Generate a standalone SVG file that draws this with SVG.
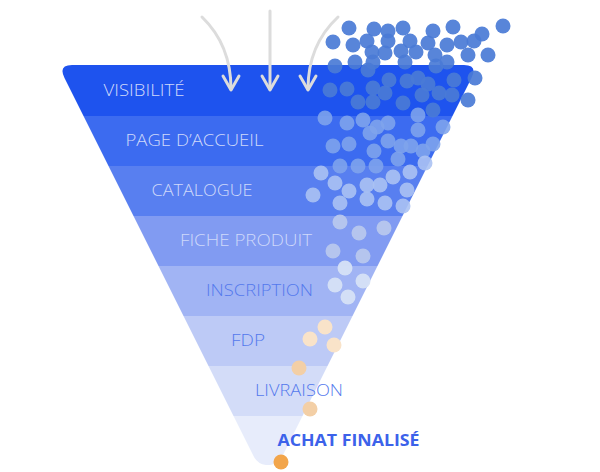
<svg xmlns="http://www.w3.org/2000/svg" width="600" height="472" viewBox="0 0 600 472">
<defs>
<style>
.lbl{font-family:"Open Sans","Lato","Liberation Sans",sans-serif;font-size:16px;font-weight:300}
.lt{fill:#cfd9fa}
.dk{fill:#5479ed}
.fin{font-family:"Open Sans","Lato","Liberation Sans",sans-serif;font-size:16px;font-weight:700;fill:#3c62ea}
.arr{fill:none;stroke:#dcdcdc;stroke-width:3;stroke-linecap:round;stroke-linejoin:round}
.d1 circle{fill:#4a7bd6;opacity:0.92}
.d2 circle{fill:#80a4ec;opacity:0.88}
.d3 circle{fill:#abc2f3;opacity:0.9}
.d4 circle{fill:#b7c7ed;opacity:0.95}
.d5 circle{fill:#d6e2f5;opacity:0.95}
.d6 circle{fill:#f9e3c9}
.d7 circle{fill:#f3cfa6}
.d8 circle{fill:#f2a54b}
</style>
<clipPath id="funnelClip">
<path d="M 72 65 L 464 65 Q 478 65 471.5 78 L 283 455 Q 279 464 270 465 L 266 465 Q 257 464 253 455 L 64.5 78 Q 58 65 72 65 Z"/>
</clipPath>
</defs>
<rect width="600" height="472" fill="#ffffff"/>
<g id="funnel" clip-path="url(#funnelClip)">
<rect x="40" y="60" width="460" height="56" fill="#1e53ee"/>
<rect x="40" y="116" width="460" height="50" fill="#3c6bf0"/>
<rect x="40" y="166" width="460" height="50" fill="#587ff0"/>
<rect x="40" y="216" width="460" height="50" fill="#819bf2"/>
<rect x="40" y="266" width="460" height="50" fill="#a1b4f4"/>
<rect x="40" y="316" width="460" height="50" fill="#bdcaf6"/>
<rect x="40" y="366" width="460" height="50" fill="#d3dcf8"/>
<rect x="40" y="416" width="460" height="56" fill="#e7ecfb"/>
</g>
<g id="stage-visibilite"><text class="lbl lt" x="103.5" y="96" textLength="81" lengthAdjust="spacingAndGlyphs">VISIBILITÉ</text></g>
<g id="stage-accueil"><text class="lbl lt" x="125.5" y="146" textLength="138" lengthAdjust="spacingAndGlyphs">PAGE D’ACCUEIL</text></g>
<g id="stage-catalogue"><text class="lbl lt" x="151.5" y="196" textLength="101" lengthAdjust="spacingAndGlyphs">CATALOGUE</text></g>
<g id="stage-fiche"><text class="lbl lt" x="180" y="246" textLength="132" lengthAdjust="spacingAndGlyphs">FICHE PRODUIT</text></g>
<g id="stage-inscription"><text class="lbl dk" x="206" y="296" textLength="107" lengthAdjust="spacingAndGlyphs">INSCRIPTION</text></g>
<g id="stage-fdp"><text class="lbl dk" x="231" y="346" textLength="34" lengthAdjust="spacingAndGlyphs">FDP</text></g>
<g id="stage-livraison"><text class="lbl dk" x="255" y="396" textLength="88" lengthAdjust="spacingAndGlyphs">LIVRAISON</text></g>
<g id="stage-achat"><text class="fin" x="277.5" y="446" textLength="142" lengthAdjust="spacingAndGlyphs">ACHAT FINALISÉ</text></g>
<g id="connectors">
<path class="arr" d="M 202 17 Q 231 45 231 89"/>
<path class="arr" d="M 223 76 L 231 90 L 239 76"/>
<path class="arr" d="M 270 11 L 270 89"/>
<path class="arr" d="M 262 76 L 270 90 L 278 76"/>
<path class="arr" d="M 338 17 Q 308 45 308 89"/>
<path class="arr" d="M 300 76 L 308 90 L 316 76"/>
</g>
<g id="dots">
<g class="d1">
<circle cx="349" cy="28" r="7.5"/><circle cx="374" cy="29" r="7.5"/><circle cx="388" cy="31" r="7.5"/><circle cx="403" cy="28" r="7.5"/><circle cx="433" cy="31" r="7.5"/><circle cx="453" cy="27" r="7.5"/><circle cx="503" cy="26" r="7.5"/><circle cx="482" cy="34" r="7.5"/>
<circle cx="333" cy="42" r="7.5"/><circle cx="353" cy="45" r="7.5"/><circle cx="367" cy="41" r="7.5"/><circle cx="388" cy="41" r="7.5"/><circle cx="410" cy="41" r="7.5"/><circle cx="428" cy="43" r="7.5"/><circle cx="447" cy="45" r="7.5"/><circle cx="461" cy="42" r="7.5"/><circle cx="474" cy="41" r="7.5"/>
<circle cx="372" cy="52" r="7.5"/><circle cx="385" cy="53" r="7.5"/><circle cx="401" cy="51" r="7.5"/><circle cx="416" cy="52" r="7.5"/><circle cx="435" cy="55" r="7.5"/><circle cx="468" cy="55" r="7.5"/><circle cx="488" cy="55" r="7.5"/>
<circle cx="355" cy="62" r="7.5"/><circle cx="373" cy="62" r="7.5"/><circle cx="405" cy="62" r="7.5"/><circle cx="447" cy="62" r="7.5"/>
<circle cx="335" cy="66" r="7.5"/><circle cx="368" cy="70" r="7.5"/><circle cx="436" cy="66" r="7.5"/>
<circle cx="389" cy="80" r="7.5"/><circle cx="407" cy="81" r="7.5"/><circle cx="418" cy="78" r="7.5"/><circle cx="428" cy="84" r="7.5"/><circle cx="454" cy="80" r="7.5"/><circle cx="475" cy="78" r="7.5"/>
<circle cx="330" cy="90" r="7.5"/><circle cx="347" cy="89" r="7.5"/><circle cx="373" cy="88" r="7.5"/><circle cx="385" cy="93" r="7.5"/><circle cx="422" cy="95" r="7.5"/><circle cx="439" cy="93" r="7.5"/><circle cx="452" cy="95" r="7.5"/><circle cx="468" cy="100" r="7.5"/>
<circle cx="358" cy="102" r="7.5"/><circle cx="373" cy="102" r="7.5"/><circle cx="403" cy="103" r="7.5"/><circle cx="433" cy="110" r="7.5"/>
</g>
<g class="d2">
<circle cx="325" cy="118" r="7.5"/><circle cx="347" cy="123" r="7.5"/><circle cx="363" cy="120" r="7.5"/><circle cx="377" cy="127" r="7.5"/><circle cx="388" cy="123" r="7.5"/><circle cx="370" cy="133" r="7.5"/><circle cx="418" cy="115" r="7.5"/><circle cx="418" cy="130" r="7.5"/><circle cx="443" cy="127" r="7.5"/>
<circle cx="333" cy="146" r="7.5"/><circle cx="349" cy="144" r="7.5"/><circle cx="388" cy="141" r="7.5"/><circle cx="374" cy="151" r="7.5"/><circle cx="401" cy="146" r="7.5"/><circle cx="411" cy="146" r="7.5"/><circle cx="433" cy="144" r="7.5"/><circle cx="423" cy="151" r="7.5"/><circle cx="398" cy="159" r="7.5"/>
<circle cx="340" cy="166" r="7.5"/><circle cx="358" cy="166" r="7.5"/><circle cx="376" cy="166" r="7.5"/>
</g>
<g class="d3">
<circle cx="425" cy="163" r="7.5"/><circle cx="321" cy="173" r="7.5"/><circle cx="410" cy="172" r="7.5"/><circle cx="335" cy="183" r="7.5"/><circle cx="367" cy="185" r="7.5"/><circle cx="380" cy="185" r="7.5"/><circle cx="393" cy="177" r="7.5"/><circle cx="349" cy="191" r="7.5"/><circle cx="313" cy="195" r="7.5"/><circle cx="407" cy="190" r="7.5"/>
<circle cx="340" cy="203" r="7.5"/><circle cx="367" cy="199" r="7.5"/><circle cx="385" cy="203" r="7.5"/><circle cx="403" cy="206" r="7.5"/>
</g>
<g class="d4">
<circle cx="340" cy="222" r="7.5"/><circle cx="359" cy="233" r="7.5"/><circle cx="384" cy="228" r="7.5"/><circle cx="333" cy="251" r="7.5"/><circle cx="363" cy="256" r="7.5"/>
</g>
<g class="d5">
<circle cx="345" cy="268" r="7.5"/><circle cx="335" cy="285" r="7.5"/><circle cx="363" cy="281" r="7.5"/><circle cx="348" cy="297" r="7.5"/>
</g>
<g class="d6">
<circle cx="325" cy="327" r="7.5"/><circle cx="310" cy="339" r="7.5"/><circle cx="334" cy="345" r="7.5"/>
</g>
<g class="d7">
<circle cx="299" cy="368" r="7.5"/><circle cx="310" cy="409" r="7.5"/>
</g>
<g class="d8">
<circle cx="281" cy="462" r="7.5"/>
</g>
</g>
</svg>
